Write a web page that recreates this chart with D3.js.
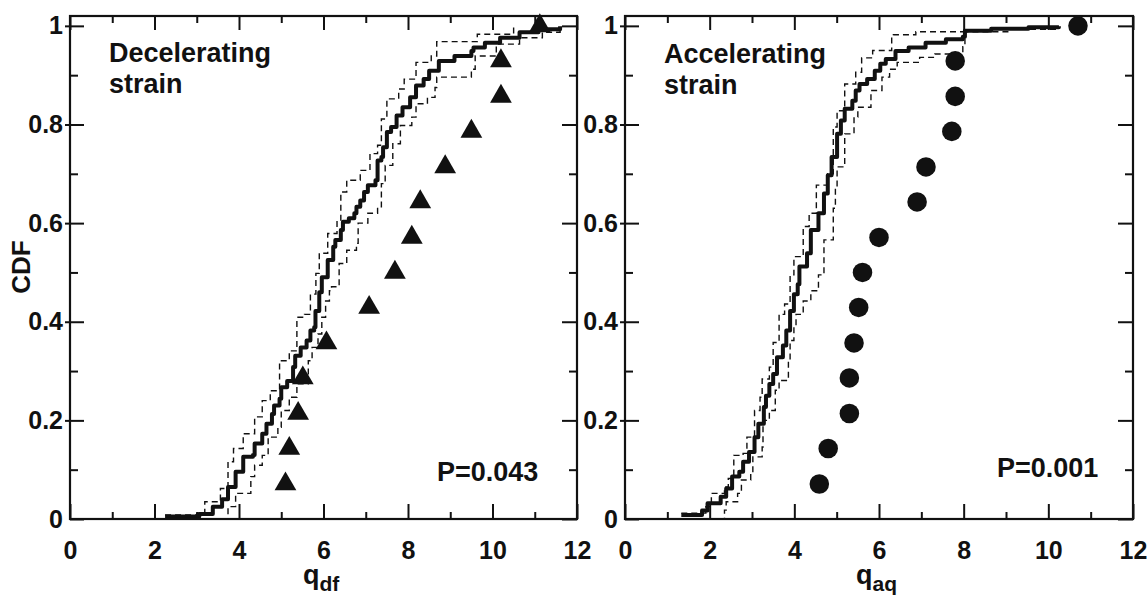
<!DOCTYPE html>
<html>
<head>
<meta charset="utf-8">
<script src="https://cdn.jsdelivr.net/npm/d3@7"></script>
<style>
  html, body { margin: 0; padding: 0; background: #fff; }
  svg { display: block; }
  text { font-family: "Liberation Sans", Arial, Helvetica, sans-serif; font-weight: bold; fill: #111; }
</style>
</head>
<body>
<svg id="chart" width="1147" height="595"></svg>
<script>
// ---------------- data ----------------
const xTickLabels = [0, 2, 4, 6, 8, 10, 12];
const yTickLabels = [0, 0.2, 0.4, 0.6, 0.8, 1];
const xMinorTicks = [1, 3, 5, 7, 9, 11];
const yMinorTicks = [0.1, 0.3, 0.5, 0.7, 0.9];

// Left panel: decelerating strain (q_df)
const decelObsQ   = [5.10, 5.19, 5.40, 5.51, 6.07, 7.08, 7.69, 8.09, 8.29, 8.88, 9.50, 10.20, 10.20, 11.12];
const decelObsCdf = [0.071, 0.143, 0.214, 0.286, 0.357, 0.429, 0.500, 0.571, 0.643, 0.714, 0.786, 0.857, 0.929, 1.000];

const decelModel = [[2.25,0.005],[3.06,0.01],[3.38,0.025],[3.6,0.04],[3.74,0.065],[3.92,0.096],[4.1,0.126],[4.33,0.13],[4.37,0.153],[4.55,0.173],[4.65,0.193],[4.78,0.213],[4.83,0.23],[4.96,0.244],[5.0,0.267],[5.14,0.28],[5.28,0.308],[5.33,0.331],[5.46,0.348],[5.6,0.362],[5.69,0.382],[5.78,0.389],[5.81,0.422],[5.9,0.46],[5.96,0.49],[6.1,0.525],[6.23,0.552],[6.28,0.566],[6.41,0.586],[6.46,0.603],[6.6,0.61],[6.73,0.62],[6.78,0.633],[6.87,0.646],[6.96,0.663],[7.05,0.677],[7.23,0.687],[7.28,0.727],[7.37,0.734],[7.41,0.754],[7.5,0.785],[7.6,0.795],[7.73,0.818],[7.87,0.835],[8.05,0.855],[8.19,0.879],[8.37,0.892],[8.5,0.909],[8.73,0.929],[9.1,0.939],[9.5,0.949],[9.55,0.956],[9.82,0.966],[10.18,0.976],[10.64,0.987],[11.09,0.993],[11.6,0.999]];
const decelUpper = [[2.25,0.008],[3.0,0.012],[3.19,0.035],[3.56,0.062],[3.74,0.116],[3.87,0.143],[4.1,0.173],[4.37,0.207],[4.55,0.24],[4.74,0.26],[4.96,0.321],[5.19,0.341],[5.37,0.409],[5.55,0.415],[5.69,0.456],[5.82,0.498],[5.9,0.539],[6.1,0.579],[6.32,0.606],[6.41,0.663],[6.55,0.687],[6.87,0.707],[7.1,0.741],[7.28,0.758],[7.37,0.811],[7.5,0.852],[7.78,0.872],[7.91,0.892],[8.19,0.926],[8.55,0.939],[8.68,0.968],[9.64,0.983],[10.5,0.998]];
const decelLower = [[3.38,0.0],[3.74,0.025],[3.92,0.052],[4.28,0.086],[4.37,0.109],[4.55,0.129],[4.69,0.166],[4.92,0.186],[5.0,0.22],[5.19,0.247],[5.37,0.274],[5.64,0.321],[5.73,0.348],[5.87,0.375],[5.96,0.409],[6.05,0.442],[6.14,0.463],[6.19,0.471],[6.37,0.518],[6.55,0.545],[6.78,0.559],[6.82,0.6],[7.05,0.62],[7.28,0.633],[7.37,0.68],[7.46,0.717],[7.64,0.761],[7.82,0.798],[8.09,0.815],[8.19,0.842],[8.46,0.855],[8.64,0.875],[8.68,0.896],[9.5,0.912],[9.59,0.939],[10.09,0.963],[10.64,0.976],[11.18,0.987],[11.6,0.998]];

// Right panel: accelerating strain (q_aq)
const accelObsQ   = [4.59, 4.80, 5.30, 5.30, 5.41, 5.52, 5.61, 6.00, 6.90, 7.11, 7.72, 7.80, 7.80, 10.70];
const accelObsCdf = [0.071, 0.143, 0.214, 0.286, 0.357, 0.429, 0.500, 0.571, 0.643, 0.714, 0.786, 0.857, 0.929, 1.000];

const accelModel = [[1.33,0.008],[1.82,0.017],[1.95,0.032],[2.26,0.045],[2.39,0.062],[2.53,0.086],[2.7,0.096],[2.79,0.116],[2.93,0.136],[3.06,0.166],[3.15,0.193],[3.28,0.227],[3.33,0.25],[3.41,0.274],[3.5,0.294],[3.59,0.328],[3.73,0.352],[3.81,0.382],[3.9,0.422],[3.99,0.456],[4.08,0.476],[4.12,0.512],[4.3,0.539],[4.39,0.586],[4.57,0.62],[4.7,0.66],[4.79,0.697],[4.88,0.734],[5.01,0.781],[5.1,0.808],[5.19,0.832],[5.37,0.848],[5.45,0.869],[5.54,0.882],[5.72,0.892],[5.9,0.909],[6.03,0.923],[6.16,0.933],[6.39,0.949],[6.7,0.956],[7.1,0.966],[7.58,0.973],[7.98,0.978],[8.03,0.99],[8.65,0.994],[9.53,0.997],[10.25,0.999]];
const accelUpper = [[1.33,0.012],[1.91,0.025],[2.04,0.052],[2.35,0.065],[2.44,0.082],[2.57,0.129],[2.79,0.133],[2.88,0.166],[3.06,0.22],[3.19,0.247],[3.24,0.284],[3.41,0.308],[3.5,0.358],[3.64,0.415],[3.77,0.436],[3.9,0.495],[3.99,0.532],[4.21,0.593],[4.35,0.62],[4.52,0.677],[4.79,0.7],[4.92,0.795],[5.01,0.828],[5.19,0.882],[5.45,0.906],[5.59,0.935],[5.85,0.95],[6.3,0.975],[6.34,0.982],[6.87,0.988],[8.0,1.0]];
const accelLower = [[2.0,0.0],[2.35,0.018],[2.39,0.035],[2.66,0.052],[2.75,0.079],[2.97,0.092],[3.02,0.126],[3.24,0.146],[3.26,0.2],[3.41,0.22],[3.55,0.261],[3.64,0.281],[3.86,0.321],[3.9,0.362],[3.99,0.389],[4.04,0.415],[4.21,0.442],[4.39,0.463],[4.57,0.495],[4.7,0.566],[4.92,0.63],[4.97,0.673],[5.01,0.714],[5.19,0.781],[5.41,0.815],[5.5,0.835],[5.81,0.869],[6.07,0.896],[6.25,0.912],[6.43,0.926],[6.96,0.936],[7.32,0.943],[7.98,0.958],[8.03,0.988],[9.09,0.993],[10.24,0.997]];

// ---------------- drawing ----------------
const svg = d3.select("#chart");
const TOP = 16, BOTTOM = 519;

function drawPanel(cfg) {
  const x = d3.scaleLinear().domain([0, 12]).range([cfg.left, cfg.right]);
  const y = d3.scaleLinear().domain([0, 1.02]).range([BOTTOM, TOP]);
  const g = svg.append("g");

  // curves
  const line = d3.line().x(d => x(d[0])).y(d => y(d[1])).curve(d3.curveStepAfter);
  [cfg.upper, cfg.lower].forEach(arr => {
    g.append("path").attr("d", line(arr)).attr("fill", "none")
      .attr("stroke", "#111").attr("stroke-width", 1.4).attr("stroke-dasharray", "6,4");
  });
  g.append("path").attr("d", line(cfg.model)).attr("fill", "none")
    .attr("stroke", "#111").attr("stroke-width", 4).attr("stroke-linejoin", "round");

  // observed points
  const sym = d3.symbol().type(cfg.symbol).size(cfg.symbolSize);
  g.selectAll("path.obs").data(cfg.obsQ).enter().append("path")
    .attr("class", "obs")
    .attr("d", sym)
    .attr("transform", (d, i) => `translate(${x(d)},${y(cfg.obsCdf[i])})`)
    .attr("fill", "#111");

  // axes (ticks pointing inward)
  const styleAxis = sel => {
    sel.select(".domain").remove();
    sel.selectAll(".tick line").attr("stroke", "#111").attr("stroke-width", 2);
  };
  // bottom major with labels
  g.append("g").attr("transform", `translate(0,${BOTTOM})`)
    .call(d3.axisBottom(x).tickValues(xTickLabels).tickSizeInner(-15).tickSizeOuter(0).tickPadding(22).tickFormat(d3.format("d")))
    .call(styleAxis)
    .call(s => s.selectAll("text").attr("font-size", 25).attr("font-family", null).attr("fill", "#111"));
  g.append("g").attr("transform", `translate(0,${BOTTOM})`)
    .call(d3.axisBottom(x).tickValues(xMinorTicks).tickSizeInner(-7).tickSizeOuter(0).tickFormat(""))
    .call(styleAxis);
  // top
  g.append("g").attr("transform", `translate(0,${TOP})`)
    .call(d3.axisTop(x).tickValues(xTickLabels).tickSizeInner(-14).tickSizeOuter(0).tickFormat(""))
    .call(styleAxis);
  g.append("g").attr("transform", `translate(0,${TOP})`)
    .call(d3.axisTop(x).tickValues(xMinorTicks).tickSizeInner(-7).tickSizeOuter(0).tickFormat(""))
    .call(styleAxis);
  // left major with labels
  g.append("g").attr("transform", `translate(${cfg.left},0)`)
    .call(d3.axisLeft(y).tickValues(yTickLabels).tickSizeInner(-14).tickSizeOuter(0).tickPadding(7)
      .tickFormat(d => d === 0 ? "0" : d === 1 ? "1" : d3.format(".1f")(d)))
    .call(styleAxis)
    .call(s => s.selectAll("text").attr("font-size", 25).attr("font-family", null).attr("fill", "#111"));
  g.append("g").attr("transform", `translate(${cfg.left},0)`)
    .call(d3.axisLeft(y).tickValues(yTickLabels.filter(v => v > 0)).tickSizeInner(5).tickSizeOuter(0).tickFormat(""))
    .call(styleAxis);
  g.append("g").attr("transform", `translate(${cfg.left},0)`)
    .call(d3.axisLeft(y).tickValues(yMinorTicks).tickSizeInner(-8).tickSizeOuter(0).tickFormat(""))
    .call(styleAxis);
  // right
  g.append("g").attr("transform", `translate(${cfg.right},0)`)
    .call(d3.axisRight(y).tickValues(yTickLabels).tickSizeInner(-15).tickSizeOuter(0).tickFormat(""))
    .call(styleAxis);
  g.append("g").attr("transform", `translate(${cfg.right},0)`)
    .call(d3.axisRight(y).tickValues(yMinorTicks).tickSizeInner(-8).tickSizeOuter(0).tickFormat(""))
    .call(styleAxis);

  // frame
  g.append("rect").attr("x", cfg.left).attr("y", TOP)
    .attr("width", cfg.right - cfg.left).attr("height", BOTTOM - TOP)
    .attr("fill", "none").attr("stroke", "#111").attr("stroke-width", 2.2);

  // annotation
  const t = g.append("text").attr("font-size", 27);
  t.append("tspan").attr("x", cfg.left + 39).attr("y", cfg.titleY).text(cfg.title[0]);
  t.append("tspan").attr("x", cfg.left + 39).attr("y", cfg.titleY + 31).text(cfg.title[1]);
  g.append("text").attr("font-size", 27).attr("x", cfg.pX).attr("y", cfg.pY).text(cfg.pText);

  // x axis title with subscript
  const xl = g.append("text").attr("x", cfg.qX).attr("y", 584).attr("font-size", 27);
  xl.append("tspan").text("q");
  xl.append("tspan").attr("font-size", 21).attr("dy", 7).text(cfg.sub);
  return g;
}

drawPanel({
  left: 70, right: 577,
  model: decelModel, upper: decelUpper, lower: decelLower,
  obsQ: decelObsQ, obsCdf: decelObsCdf,
  symbol: d3.symbolTriangle, symbolSize: 205,
  title: ["Decelerating", "strain"], titleY: 62,
  pText: "P=0.043", pX: 437, pY: 481,
  qX: 303, sub: "df"
});
drawPanel({
  left: 625, right: 1133,
  model: accelModel, upper: accelUpper, lower: accelLower,
  obsQ: accelObsQ, obsCdf: accelObsCdf,
  symbol: d3.symbolCircle, symbolSize: 300,
  title: ["Accelerating", "strain"], titleY: 63,
  pText: "P=0.001", pX: 997, pY: 477,
  qX: 856, sub: "aq"
});

// y axis title
svg.append("text").attr("font-size", 26).attr("text-anchor", "middle")
  .attr("transform", "translate(30,267) rotate(-90)").text("CDF");
</script>
</body>
</html>
